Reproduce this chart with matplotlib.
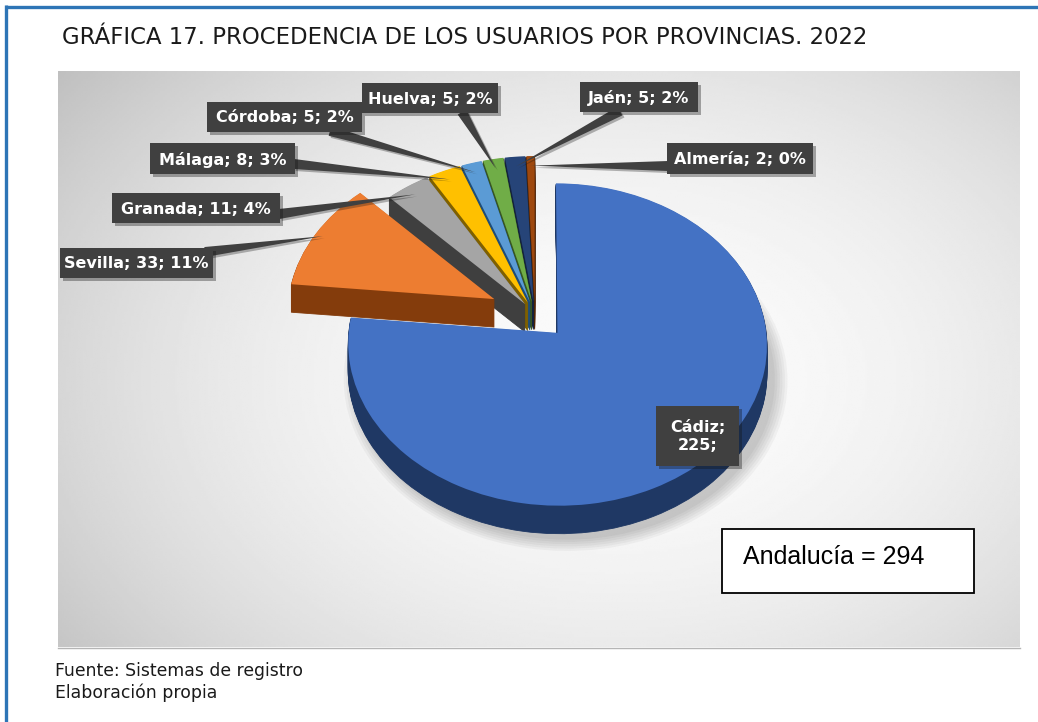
import numpy as np
import matplotlib
matplotlib.use('Agg')
import matplotlib.pyplot as plt
from matplotlib.patches import Rectangle, Polygon, Wedge
from matplotlib.transforms import Transform, Affine2D
import matplotlib.patheffects as pe

# Datos
provincias = ['Cádiz', 'Sevilla', 'Granada', 'Málaga', 'Córdoba', 'Huelva', 'Jaén', 'Almería']
usuarios = [225, 33, 11, 8, 5, 5, 5, 2]
porcentajes = ['', '11%', '4%', '3%', '2%', '2%', '2%', '0%']
total_andalucia = 294

colores = ['#4472c4', '#ed7d31', '#a5a5a5', '#ffc000', '#5b9bd5', '#70ad47', '#264478', '#9e480e']
laterales = ['#1f3864', '#843c0c', '#3f3f3f', '#7f6000', '#1f4e79', '#375623', '#13223c', '#4f2407']
explode = [0.16, 0.22, 0.08, 0.08, 0.08, 0.08, 0.08, 0.08]


class Perspectiva(Transform):
    """Inclinación 3D sencilla: la parte de atrás se ve más pequeña."""
    input_dims = output_dims = 2

    def __init__(self, k):
        super().__init__()
        self.k = k

    def transform_non_affine(self, values):
        values = np.asarray(values, dtype=float)
        f = 1 + self.k * values[:, 1]
        return np.column_stack([values[:, 0] / f, values[:, 1] / f])


W, H = 1038, 722
fig = plt.figure(figsize=(W / 100, H / 100), dpi=100)
fig.patch.set_facecolor('white')

# Fondo con degradado
ax_bg = fig.add_axes([0, 0, 1, 1])
ax_bg.set_xlim(0, W)
ax_bg.set_ylim(H, 0)
ax_bg.axis('off')
gx, gy = np.meshgrid(np.linspace(58, 1020, 400), np.linspace(71, 647, 250))
d = np.sqrt(((gx - 620) / 600) ** 2 + ((gy - 380) / 420) ** 2)
grad = 0.985 - 0.165 * np.clip(d, 0, 1.3) ** 2
ax_bg.imshow(grad, cmap='gray', vmin=0, vmax=1, extent=(58, 1020, 647, 71),
             aspect='auto', interpolation='bilinear', zorder=0)
ax_bg.plot([58, 1020], [647.5, 647.5], color='#b5b5b5', lw=1)
ax_bg.plot([5.5, 5.5], [5, H], color='#2e75b6', lw=2.4, solid_capstyle='butt')
ax_bg.plot([4.5, W], [6.5, 6.5], color='#2e75b6', lw=2.4, solid_capstyle='butt')

ax_bg.text(62, 38, 'GRÁFICA 17. PROCEDENCIA DE LOS USUARIOS POR PROVINCIAS. 2022',
           fontsize=16.4, color='#1a1a1a', va='center', ha='left')
ax_bg.text(55, 671, 'Fuente: Sistemas de registro', fontsize=12.4, color='#1a1a1a',
           va='center', ha='left')
ax_bg.text(55, 693, 'Elaboración propia', fontsize=12.4, color='#1a1a1a',
           va='center', ha='left')

# Tarta 3D
rx, ry = 207, 157.6
cx, cy = 535, 314
L = 2.5
ax_pie = fig.add_axes([(cx - L * rx) / W, (H - cy - L * ry) / H, 2 * L * rx / W, 2 * L * ry / H])
ax_pie.patch.set_alpha(0)
persp = Perspectiva(0.072)

profundidad = 28

# sombra suave de Cádiz
t_cadiz = 90 - 360 * usuarios[0] / sum(usuarios)
m_cadiz = np.radians((90 + t_cadiz) / 2)
c_cadiz = (explode[0] * np.cos(m_cadiz), explode[0] * np.sin(m_cadiz))
for s in range(6):
    sombra = Wedge(c_cadiz, 1.0 + 0.012 * s, t_cadiz, 90, fc='black', ec='none', alpha=0.035,
                   transform=persp + Affine2D().translate(8 / rx, -(profundidad + 6) / ry)
                   + ax_pie.transData)
    ax_pie.add_patch(sombra)

for k in range(profundidad, 0, -1):
    desplaz = persp + Affine2D().translate(0, -k / ry) + ax_pie.transData
    ax_pie.pie(usuarios, explode=explode, startangle=90, counterclock=False,
               colors=laterales, wedgeprops=dict(linewidth=0.6, transform=desplaz))
    for w, c in zip(ax_pie.patches[-len(usuarios):], laterales):
        w.set_edgecolor(c)
ax_pie.pie(usuarios, explode=explode, startangle=90, counterclock=False,
           colors=colores, wedgeprops=dict(linewidth=0, transform=persp + ax_pie.transData))
ax_pie.set_aspect('auto')
ax_pie.set_xlim(-L, L)
ax_pie.set_ylim(-L, L)
ax_pie.axis('off')

# Capa de etiquetas
ax_ov = fig.add_axes([0, 0, 1, 1])
ax_ov.patch.set_alpha(0)
ax_ov.set_xlim(0, W)
ax_ov.set_ylim(H, 0)
ax_ov.axis('off')

cajas = {
    'Cádiz': (656, 406, 739, 466),
    'Sevilla': (60, 248, 213, 278),
    'Granada': (112, 193, 280, 223),
    'Málaga': (150, 143, 295, 174),
    'Córdoba': (207, 102, 362, 132),
    'Huelva': (362, 83, 498, 113),
    'Jaén': (580, 82, 698, 112),
    'Almería': (667, 143, 813, 174),
}
bases = {
    'Sevilla': (205, 252), 'Granada': (279, 214), 'Málaga': (294, 164),
    'Córdoba': (330, 131), 'Huelva': (462, 112), 'Jaén': (620, 111),
    'Almería': (668, 166),
}
fraccion = {'Sevilla': 0.96}

acum = np.cumsum([0] + usuarios)
total = sum(usuarios)
a_pixel = persp + ax_pie.transData + ax_ov.transData.inverted()
for i, prov in enumerate(provincias):
    t1 = 90 - 360 * acum[i] / total
    t2 = 90 - 360 * acum[i + 1] / total
    m = np.radians((t1 + t2) / 2)
    x0, y0, x1, y1 = cajas[prov]
    if prov in bases:
        r = explode[i] + fraccion.get(prov, 0.93)
        tx, ty = a_pixel.transform(np.array([[r * np.cos(m), r * np.sin(m)]]))[0]
        bx, by = bases[prov]
        v = np.array([tx - bx, ty - by])
        v = v / np.hypot(*v)
        n = np.array([-v[1], v[0]]) * 5
        ax_ov.add_patch(Polygon([(tx, ty), (bx + n[0], by + n[1]), (bx - n[0], by - n[1])],
                                closed=True, fc='#404040', ec='none', zorder=2,
                                path_effects=[pe.withSimplePatchShadow(offset=(1.5, -1.5), alpha=0.3)]))
    caja = Rectangle((x0, y0), x1 - x0, y1 - y0, fc='#404040', ec='none', zorder=3)
    caja.set_path_effects([pe.withSimplePatchShadow(offset=(2.5, -2.5), alpha=0.35)])
    ax_ov.add_patch(caja)
    if prov == 'Cádiz':
        texto = f'{prov};\n{usuarios[i]};'
    else:
        texto = f'{prov}; {usuarios[i]}; {porcentajes[i]}'
    ax_ov.text((x0 + x1) / 2, (y0 + y1) / 2 + 1, texto, color='white', fontsize=11.5,
               fontweight='bold', ha='center', va='center', zorder=4, linespacing=1.25)

# Recuadro total
ax_ov.add_patch(Rectangle((722, 529), 252, 64, fc='white', ec='black', lw=1.3, zorder=3))
ax_ov.text(743, 557, f'Andalucía = {total_andalucia}', fontsize=18, family='Liberation Sans',
           ha='left', va='center', zorder=4)

fig.savefig('out.png', dpi=100)
